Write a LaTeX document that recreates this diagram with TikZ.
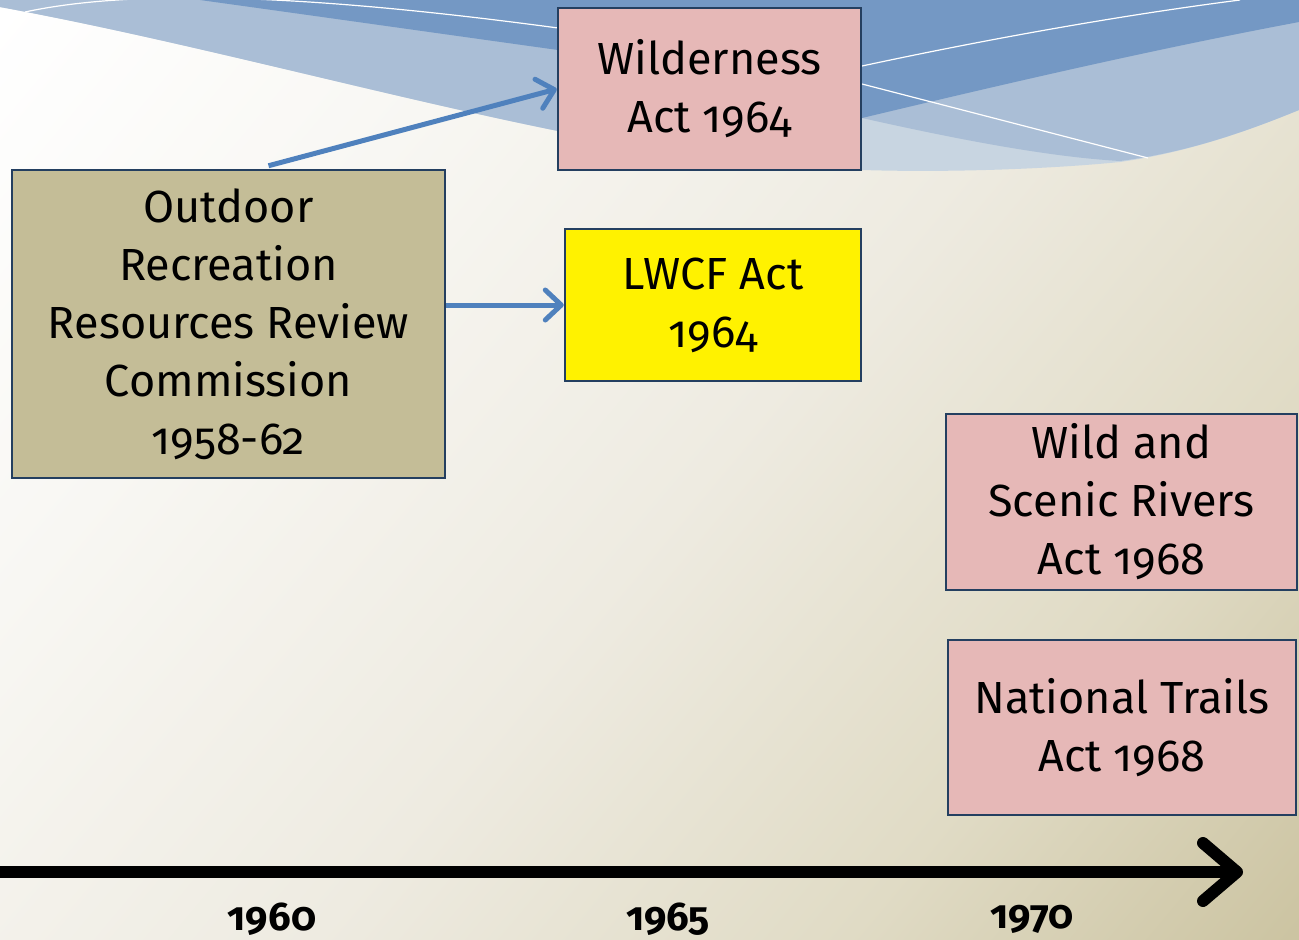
\documentclass[tikz,border=0pt]{standalone}
\usepackage{fontspec}
\setmainfont{Fira Sans}[Numbers=OldStyle]
\usetikzlibrary{arrows.meta,calc}

\definecolor{wdark}{HTML}{7498C4}
\definecolor{wmed}{HTML}{AABED6}
\definecolor{wlight}{HTML}{C8D5E1}
\definecolor{boxline}{HTML}{243F60}
\definecolor{pinkfill}{HTML}{E6B8B7}
\definecolor{tanfill}{HTML}{C4BD97}
\definecolor{arrowblue}{HTML}{4F81BD}

\pgfdeclareverticalshading{bgshade}{100bp}{%
  color(0bp)=(rgb,255:red,197;green,189;blue,152);
  color(15bp)=(rgb,255:red,204;green,196;blue,162);
  color(30bp)=(rgb,255:red,224;green,219;blue,197);
  color(48bp)=(rgb,255:red,238;green,235;blue,225);
  color(68bp)=(rgb,255:red,248;green,247;blue,243);
  color(85bp)=(rgb,255:red,255;green,255;blue,255);
  color(100bp)=(rgb,255:red,255;green,255;blue,255)}

\begin{document}
\begin{tikzpicture}[x=1pt,y=-1pt,
  box/.style={draw=boxline, line width=2.5pt, inner sep=0pt, align=center,
    font=\fontsize{45}{58}\selectfont},
  link/.style={draw=arrowblue, line width=5pt,
    -{Straight Barb[length=16pt,width=30pt,round]}},
  timeline/.style={draw=black, line width=12pt,
    -{Straight Barb[length=34pt,width=58pt,round]}},
  year/.style={font=\fontsize{40}{42}\selectfont\bfseries},
  waveline/.style={draw=white, line width=1.2pt}]

\useasboundingbox (0,0) rectangle (1299,940);

% background
\shade[shading=bgshade, shading angle=50] (0,0) rectangle (1299,940);

% waves
\fill[wlight] (0,0) -- (0,7) .. controls (180,40) and (380,95) .. (558,131)
  -- (700,155) -- (862,170) .. controls (960,173) and (1060,168) .. (1120,162)
  .. controls (1190,152) and (1250,130) .. (1299,110) -- (1299,0) -- cycle;
\fill[wmed] (0,0) -- (0,7) .. controls (180,40) and (380,95) .. (558,131)
  -- (700,140) -- (862,118) .. controls (960,140) and (1050,157) .. (1120,161)
  .. controls (1190,152) and (1250,130) .. (1299,110) -- (1299,0) -- cycle;
\fill[wdark] (200,0) .. controls (330,18) and (450,35) .. (558,50) -- (700,80)
  -- (862,118) .. controls (1000,85) and (1150,50) .. (1299,22) -- (1299,0) -- cycle;
\draw[waveline] (25,12) .. controls (150,-15) and (350,0) .. (558,28);
\draw[waveline] (862,66) .. controls (960,45) and (1100,18) .. (1240,0);
\draw[waveline] (862,84) -- (1148,158);

% boxes
\node[box, fill=pinkfill, minimum width=303pt, minimum height=162pt] (wild) at (709.5,89)
  {Wilderness\\Act 1964};
\node[box, fill=tanfill, minimum width=433pt, minimum height=308pt] (orrrc) at (228.5,324)
  {Outdoor\\Recreation\\Resources Review\\Commission\\1958-62};
\node[box, fill=yellow, minimum width=296pt, minimum height=152pt] (lwcf) at (713,305)
  {LWCF Act\\1964};
\node[box, fill=pinkfill, minimum width=351pt, minimum height=176pt] (wsr) at (1121.5,502)
  {Wild and\\Scenic Rivers\\Act 1968};
\node[box, fill=pinkfill, minimum width=348pt, minimum height=175pt] (nta) at (1122,727.5)
  {National Trails\\Act 1968};

% connectors
\draw[link] ([xshift=40pt,yshift=3pt]orrrc.north) -- (wild.west);
\draw[link] (orrrc.east |- lwcf.west) -- (lwcf.west);

% timeline
\coordinate (tlstart) at (0,872);
\coordinate (tlend) at (1243,872);
\draw[timeline] (tlstart) -- (tlend);

\node[year] (y1960) at (272,919) {1960};
\node[year] (y1965) at (668,919) {1965};
\node[year] (y1970) at (1032,919) {1970};
\end{tikzpicture}
\end{document}
